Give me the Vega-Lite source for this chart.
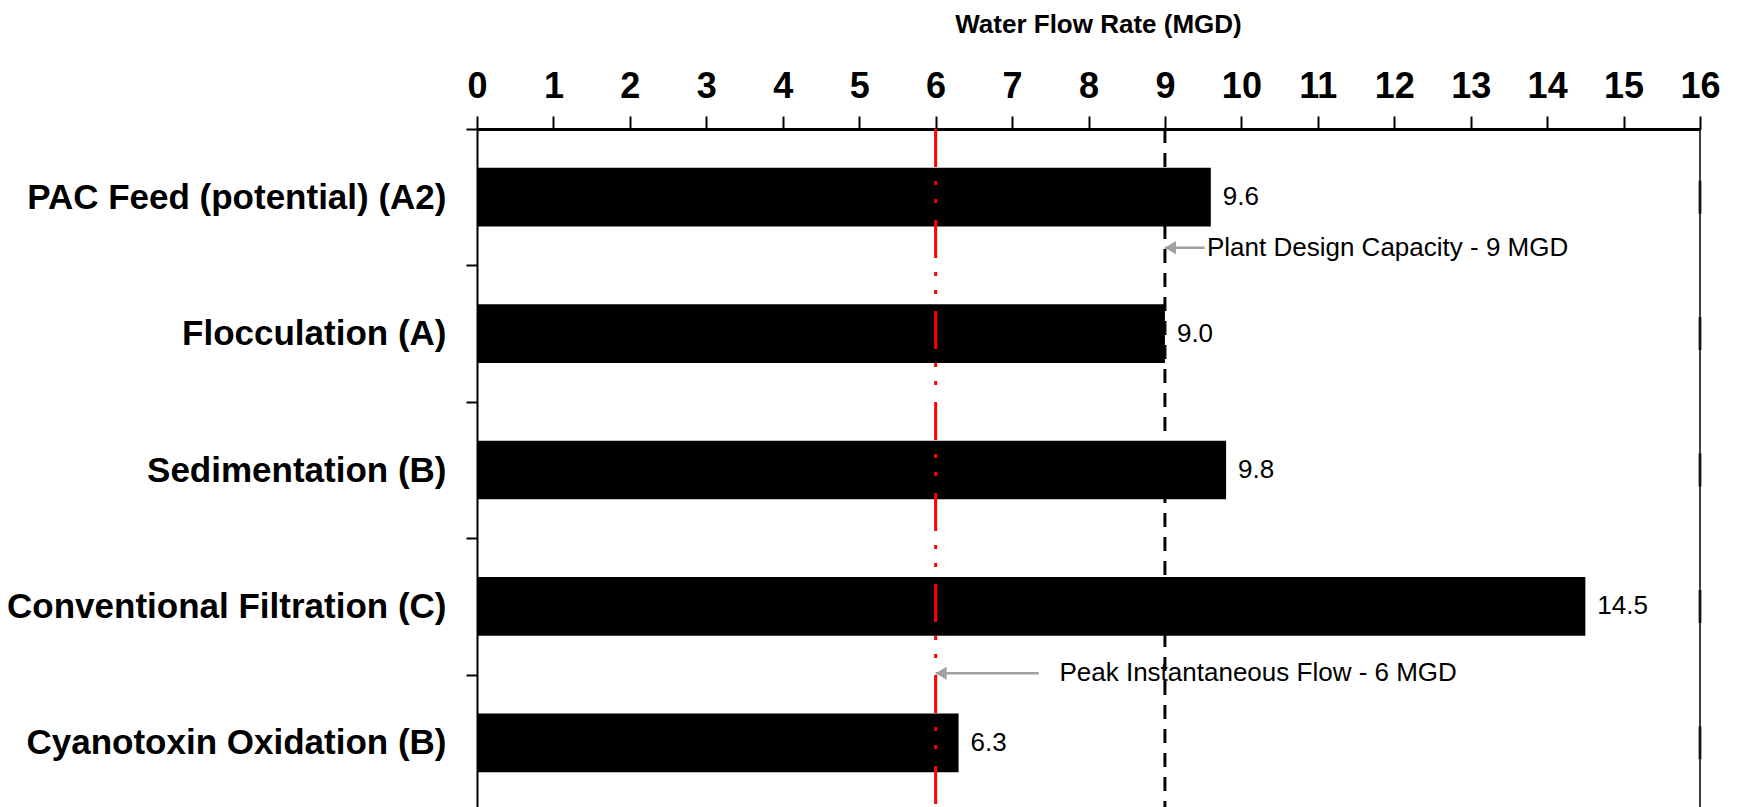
{
  "$schema": "https://vega.github.io/schema/vega-lite/v6.json",
  "width": 1223,
  "height": 682,
  "autosize": "none",
  "padding": {"left": 477, "top": 129, "right": 39, "bottom": -4},
  "background": "white",
  "config": {
    "view": {"stroke": null},
    "font": "Liberation Sans"
  },
  "resolve": {"scale": {"y": "independent"}},
  "layer": [
    {
      "data": {
        "values": [
          {"process": "PAC Feed (potential) (A2)", "flow": 9.6},
          {"process": "Flocculation (A)", "flow": 9.0},
          {"process": "Sedimentation (B)", "flow": 9.8},
          {"process": "Conventional Filtration (C)", "flow": 14.5},
          {"process": "Cyanotoxin Oxidation (B)", "flow": 6.3}
        ]
      },
      "encoding": {
        "y": {
          "field": "process",
          "type": "nominal",
          "sort": null,
          "scale": {"type": "band", "paddingInner": 0, "paddingOuter": 0},
          "axis": {
            "title": null,
            "orient": "left",
            "labelFont": "Liberation Sans",
            "labelFontSize": 35,
            "labelFontWeight": "bold",
            "labelColor": "black",
            "labelPadding": 20,
            "labelLimit": 0,
            "tickBand": "extent",
            "tickSize": 11,
            "tickWidth": 2,
            "tickColor": "black",
            "domainColor": "black",
            "domainWidth": 2
          }
        }
      },
      "layer": [
        {
          "mark": {"type": "bar", "color": "black", "height": {"band": 0.43}},
          "encoding": {
            "x": {
              "field": "flow",
              "type": "quantitative",
              "scale": {"domain": [0, 16], "nice": false},
              "axis": {
                "orient": "top",
                "title": "Water Flow Rate (MGD)",
                "titleFont": "Liberation Sans",
                "titleFontSize": 26,
                "titleFontWeight": "bold",
                "titleColor": "black",
                "titlePadding": 31,
                "titleX": 621,
                "values": [0, 0.5, 1, 1.5, 2, 2.5, 3, 3.5, 4, 4.5, 5, 5.5, 6, 6.5, 7, 7.5, 8, 8.5, 9, 9.5, 10, 10.5, 11, 11.5, 12, 12.5, 13, 13.5, 14, 14.5, 15, 15.5, 16],
                "format": "d",
                "labelExpr": "datum.value % 1 === 0 ? datum.label : ''",
                "labelFont": "Liberation Sans",
                "labelFontSize": 36,
                "labelFontWeight": "bold",
                "labelColor": "black",
                "labelPadding": 11,
                "labelOverlap": false,
                "labelFlush": false,
                "tickSize": {"condition": {"test": "datum.value % 1 !== 0", "value": 10}, "value": 13},
                "tickWidth": 2,
                "tickColor": "black",
                "domainColor": "black",
                "domainWidth": 3,
                "grid": false
              }
            }
          }
        },
        {
          "mark": {"type": "text", "align": "left", "baseline": "middle", "dx": 12, "fontSize": 26, "color": "black"},
          "encoding": {
            "x": {"field": "flow", "type": "quantitative", "scale": {"domain": [0, 16], "nice": false}},
            "text": {"field": "flow", "format": ".1f"}
          }
        },
        {
          "mark": {"type": "tick", "orient": "vertical", "size": 33, "thickness": 3, "color": "black"},
          "encoding": {
            "x": {"datum": 16, "type": "quantitative", "scale": {"domain": [0, 16], "nice": false}}
          }
        },
        {
          "data": {"values": [{"flow": 16}]},
          "mark": {"type": "rule", "color": "black", "strokeWidth": 1.5},
          "encoding": {
            "x": {"field": "flow", "type": "quantitative", "scale": {"domain": [0, 16], "nice": false}},
            "y": null
          }
        },
        {
          "data": {"values": [{"flow": 6}]},
          "mark": {"type": "rule", "color": "#FF0000", "strokeWidth": 3, "strokeDash": [38, 14, 4, 14, 4, 17]},
          "encoding": {
            "x": {"field": "flow", "type": "quantitative", "scale": {"domain": [0, 16], "nice": false}},
            "y": null
          }
        },
        {
          "data": {"values": [{"flow": 9}]},
          "mark": {"type": "rule", "color": "black", "strokeWidth": 3, "strokeDash": [14, 10]},
          "encoding": {
            "x": {"field": "flow", "type": "quantitative", "scale": {"domain": [0, 16], "nice": false}},
            "y": null
          }
        }
      ]
    },
    {
      "data": {
        "values": [
          {"note": "Plant Design Capacity - 9 MGD", "flow": 9, "tail": 9.52, "text_x": 9.55, "row": 0.87},
          {"note": "Peak Instantaneous Flow - 6 MGD", "flow": 6, "tail": 7.35, "text_x": 7.62, "row": 3.99}
        ]
      },
      "encoding": {
        "y": {"field": "row", "type": "quantitative", "scale": {"domain": [0, 5], "reverse": true, "nice": false, "zero": false}, "axis": null}
      },
      "layer": [
        {
          "mark": {"type": "rule", "color": "#A0A0A0", "strokeWidth": 2.5},
          "encoding": {
            "x": {"field": "flow", "type": "quantitative", "scale": {"domain": [0, 16], "nice": false}},
            "x2": {"field": "tail"}
          }
        },
        {
          "mark": {"type": "point", "shape": "M0,0L1,-0.6L1,0.6Z", "size": 484, "filled": true, "color": "#A0A0A0", "opacity": 1, "strokeWidth": 0},
          "encoding": {
            "x": {"field": "flow", "type": "quantitative", "scale": {"domain": [0, 16], "nice": false}}
          }
        },
        {
          "mark": {"type": "text", "align": "left", "baseline": "middle", "fontSize": 26, "color": "black"},
          "encoding": {
            "x": {"field": "text_x", "type": "quantitative", "scale": {"domain": [0, 16], "nice": false}},
            "text": {"field": "note"}
          }
        }
      ]
    }
  ]
}
